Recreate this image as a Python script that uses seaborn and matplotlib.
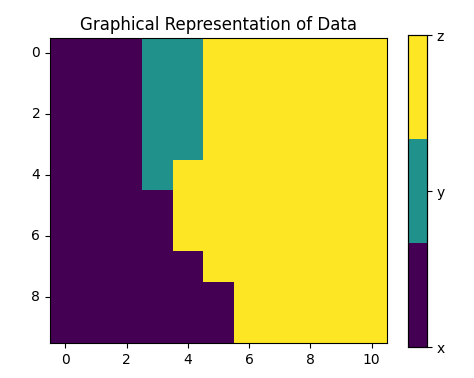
import numpy as np
import matplotlib
matplotlib.use("Agg")
import matplotlib.pyplot as plt
from matplotlib.colors import ListedColormap
import seaborn as sns

# categorie e griglia (0=x, 1=y, 2=z)
categories = ["x", "y", "z"]
rows = [
    [0, 0, 0, 1, 1, 2, 2, 2, 2, 2, 2],
    [0, 0, 0, 1, 1, 2, 2, 2, 2, 2, 2],
    [0, 0, 0, 1, 1, 2, 2, 2, 2, 2, 2],
    [0, 0, 0, 1, 1, 2, 2, 2, 2, 2, 2],
    [0, 0, 0, 1, 2, 2, 2, 2, 2, 2, 2],
    [0, 0, 0, 0, 2, 2, 2, 2, 2, 2, 2],
    [0, 0, 0, 0, 2, 2, 2, 2, 2, 2, 2],
    [0, 0, 0, 0, 0, 2, 2, 2, 2, 2, 2],
    [0, 0, 0, 0, 0, 0, 2, 2, 2, 2, 2],
    [0, 0, 0, 0, 0, 0, 2, 2, 2, 2, 2],
]
data = np.array(rows)
x_ticks = [0, 2, 4, 6, 8, 10]
y_ticks = [0, 2, 4, 6, 8]

cmap = ListedColormap(["#440154", "#21918c", "#fde725"])

fig = plt.figure(figsize=(4.74, 3.78), dpi=100)
ax = fig.add_axes([0.1055, 0.0926, 0.711, 0.807])
cax = fig.add_axes([0.861, 0.082, 0.040, 0.825])

sns.heatmap(data, cmap=cmap, vmin=0, vmax=2, ax=ax, cbar_ax=cax,
            cbar_kws={"ticks": [0, 1, 2]})

# assi come in imshow
ax.set_xticks([t + 0.5 for t in x_ticks])
ax.set_xticklabels([str(t) for t in x_ticks], rotation=0)
ax.set_yticks([t + 0.5 for t in y_ticks])
ax.set_yticklabels([str(t) for t in y_ticks], rotation=0)
ax.tick_params(length=3.5, width=0.8, labelsize=10)
for s in ax.spines.values():
    s.set_visible(True)
    s.set_linewidth(0.8)
ax.set_title("Graphical Representation of Data", fontsize=12)

cax.set_yticklabels(categories)
cax.tick_params(length=3.5, width=0.8, labelsize=10)
for s in cax.spines.values():
    s.set_visible(True)
    s.set_linewidth(0.8)

fig.savefig("out.png", dpi=100)
